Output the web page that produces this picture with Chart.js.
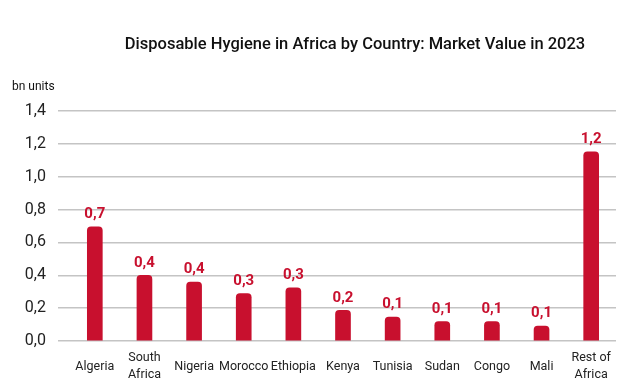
<!DOCTYPE html>
<html>
<head>
<meta charset="utf-8">
<script src="https://cdn.jsdelivr.net/npm/chart.js@4"></script>
<style>
  html, body { margin: 0; padding: 0; background: #fff; }
  #wrap { width: 642px; height: 391px; position: relative; }
</style>
</head>
<body>
<div id="wrap"><canvas id="chart"></canvas></div>
<script>
// chart data
const countries = ['Algeria', ['South', 'Africa'], 'Nigeria', 'Morocco', 'Ethiopia', 'Kenya',
    'Tunisia', 'Sudan', 'Congo', 'Mali', ['Rest of', 'Africa']];
const marketValue = [0.695, 0.40, 0.358, 0.289, 0.323, 0.187, 0.145, 0.118, 0.118, 0.091, 1.152];
const yTicks = [0, 0.2, 0.4, 0.6, 0.8, 1.0, 1.2, 1.4];

const chartTitle = 'Disposable Hygiene in Africa by Country: Market Value in 2023';
const unitLabel = 'bn units';

const RED = '#c8102e';
const GRID = '#c4c4c4';
const FONT = 'Roboto, "DejaVu Sans", sans-serif';

const fmt = v => v.toFixed(1).replace('.', ',');

// value labels above bars + title and unit text
const extrasPlugin = {
    id: 'extras',
    afterDatasetsDraw(chart) {
        const ctx = chart.ctx;
        const meta = chart.getDatasetMeta(0);
        ctx.save();
        ctx.fillStyle = RED;
        ctx.font = 'bold 15px ' + FONT;
        ctx.textAlign = 'center';
        ctx.textBaseline = 'bottom';
        meta.data.forEach((bar, i) => {
            ctx.fillText(fmt(marketValue[i]), bar.x, bar.y - 5);
        });

        ctx.fillStyle = '#111';
        ctx.font = '500 16.5px ' + FONT;
        ctx.textBaseline = 'middle';
        ctx.fillText(chartTitle, 355, 45);

        ctx.font = '12px ' + FONT;
        ctx.textAlign = 'left';
        ctx.fillText(unitLabel, 12, 87);
        ctx.restore();
    }
};

new Chart(document.getElementById('chart').getContext('2d'), {
    type: 'bar',
    data: {
        labels: countries,
        datasets: [{
            data: marketValue,
            backgroundColor: RED,
            barThickness: 15,
            borderRadius: { topLeft: 4, topRight: 4, bottomLeft: 0, bottomRight: 0 },
            borderSkipped: false
        }]
    },
    options: {
        responsive: true,
        maintainAspectRatio: false,
        animation: false,
        layout: { padding: { top: 111, right: 26, left: 0, bottom: 0 } },
        plugins: {
            legend: { display: false },
            title: { display: false },
            tooltip: { enabled: false }
        },
        scales: {
            x: {
                grid: { display: false },
                border: { display: false },
                ticks: {
                    color: '#222',
                    font: { family: FONT, size: 12.5, lineHeight: 1.35 },
                    padding: 9,
                    maxRotation: 0,
                    autoSkip: false,
                    crossAlign: 'center'
                },
                afterFit(scale) { scale.height = 50; }
            },
            y: {
                min: 0,
                max: 1.4,
                afterBuildTicks(scale) {
                    scale.ticks = yTicks.map(v => ({ value: v }));
                },
                grid: {
                    color: GRID,
                    lineWidth: 1.5,
                    tickColor: GRID,
                    tickLength: 12,
                    drawTicks: true
                },
                border: { display: false },
                ticks: {
                    color: '#222',
                    font: { family: FONT, size: 16 },
                    padding: 12,
                    callback: v => fmt(v)
                },
                afterFit(scale) { scale.width = 70; }
            }
        }
    },
    plugins: [extrasPlugin]
});
</script>
</body>
</html>
